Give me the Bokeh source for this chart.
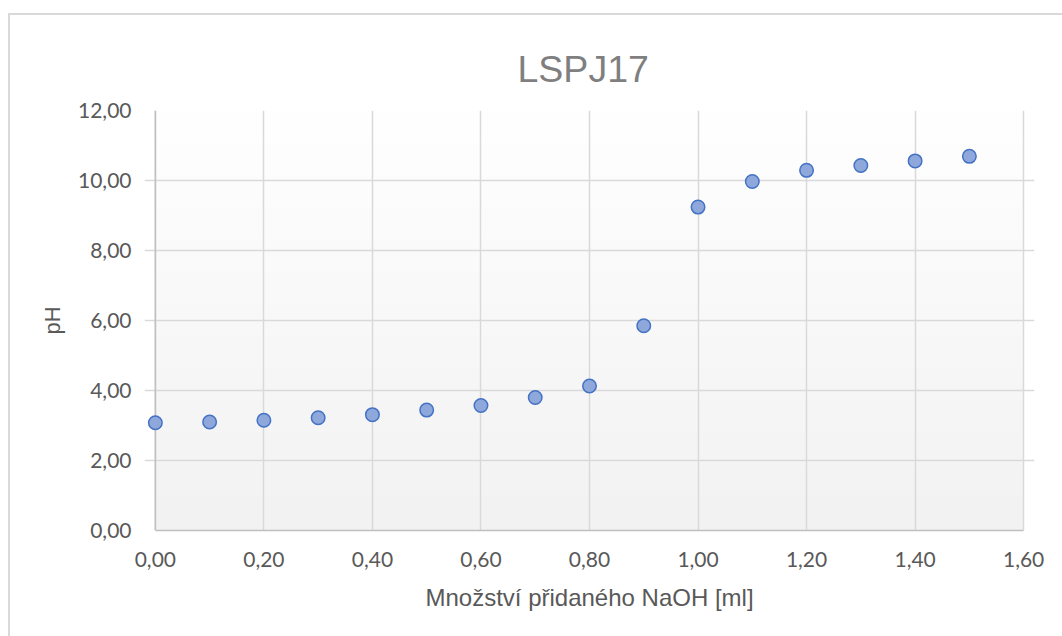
import numpy as np
from bokeh.plotting import figure
from bokeh.models import Range1d, FixedTicker, CustomJSTickFormatter, Span
from bokeh.embed import file_html
from bokeh.resources import INLINE

# Titration data: added NaOH volume [ml] vs. measured pH
volume = [0.0, 0.1, 0.2, 0.3, 0.4, 0.5, 0.6, 0.7, 0.8, 0.9, 1.0, 1.1, 1.2, 1.3, 1.4, 1.5]
ph = [3.08, 3.10, 3.15, 3.22, 3.31, 3.44, 3.57, 3.80, 4.13, 5.85, 9.24, 9.97, 10.29, 10.43, 10.56, 10.69]

x_ticks = [0.0, 0.2, 0.4, 0.6, 0.8, 1.0, 1.2, 1.4, 1.6]
y_ticks = [0, 2, 4, 6, 8, 10, 12]

title_text = "LSPJ17"
x_label = "Množství přidaného NaOH [ml]"
y_label = "pH"

GRID = "#d9d9d9"
AXIS = "#bfbfbf"
TEXT = "#595959"

# small strips beside the value range keep edge markers from being cut by the frame
X_PAD = 0.02

p = figure(
    frame_width=890, frame_height=420,
    x_range=Range1d(x_ticks[0] - X_PAD, x_ticks[-1] + X_PAD),
    y_range=Range1d(y_ticks[0], y_ticks[-1]),
    min_border_left=134, min_border_right=28,
    min_border_top=95, min_border_bottom=106,
    margin=(13, 0, 0, 8),
    output_backend="svg", toolbar_location=None,
    background_fill_color="white", border_fill_color="white",
)
p.styles = {"border-left": "2px solid #d9d9d9", "border-top": "2px solid #d9d9d9"}
p.outline_line_color = None

p.title.text = title_text
p.title.align = "left"
p.title.offset = 373
p.title.standoff = 42
p.title.text_font = "Liberation Sans"
p.title.text_font_size = "37.5px"
p.title.text_font_style = "normal"
p.title.text_color = "#7f7f7f"

# soft vertical gradient behind the plot area
n = 420
shade = np.linspace(0xF2, 0xFF, n).astype(np.uint32)
rgba = (0xFF << 24) | (shade << 16) | (shade << 8) | shade
img = rgba.reshape(n, 1)
p.image_rgba(image=[img], x=x_ticks[0], y=y_ticks[0],
             dw=x_ticks[-1] - x_ticks[0], dh=y_ticks[-1] - y_ticks[0], level="image")

fmt = CustomJSTickFormatter(code="return tick.toFixed(2).replace('.', ',');")

for ax, ticks in ((p.xaxis, x_ticks), (p.yaxis, y_ticks)):
    ax.ticker = FixedTicker(ticks=ticks)
    ax.formatter = fmt
    ax.major_tick_line_color = None
    ax.minor_tick_line_color = None
    ax.axis_line_color = AXIS
    ax.axis_line_width = 1.5
    ax.major_label_text_font = "Lato"
    ax.major_label_text_font_size = "21px"
    ax.major_label_text_color = TEXT
    ax.axis_label_text_font = "Liberation Sans"
    ax.axis_label_text_font_style = "normal"
    ax.axis_label_text_color = TEXT

p.xaxis.bounds = (x_ticks[0], x_ticks[-1])
p.xaxis.axis_label = x_label
p.xaxis.axis_label_text_font_size = "24px"
p.xaxis.major_label_standoff = 15
p.xaxis.axis_label_standoff = 14

p.yaxis.axis_line_color = None
p.yaxis.axis_label = y_label
p.yaxis.axis_label_text_font_size = "22px"
p.yaxis.major_label_standoff = 7
p.yaxis.axis_label_standoff = 10

# value axis line drawn at x = 0
p.add_layout(Span(location=x_ticks[0], dimension="height", line_color=AXIS,
                  line_width=1.5, level="underlay"))

p.xgrid.ticker = FixedTicker(ticks=x_ticks)
p.ygrid.ticker = FixedTicker(ticks=y_ticks)
p.ygrid.bounds = (x_ticks[0], x_ticks[-1])
for g in (p.xgrid, p.ygrid):
    g.grid_line_color = GRID
    g.grid_line_width = 1.5

p.scatter(volume, ph, size=13.5, marker="circle",
          fill_color="#8EA8DB", line_color="#4472C4", line_width=1.5)

open("out.html", "w").write(file_html(p, INLINE))
